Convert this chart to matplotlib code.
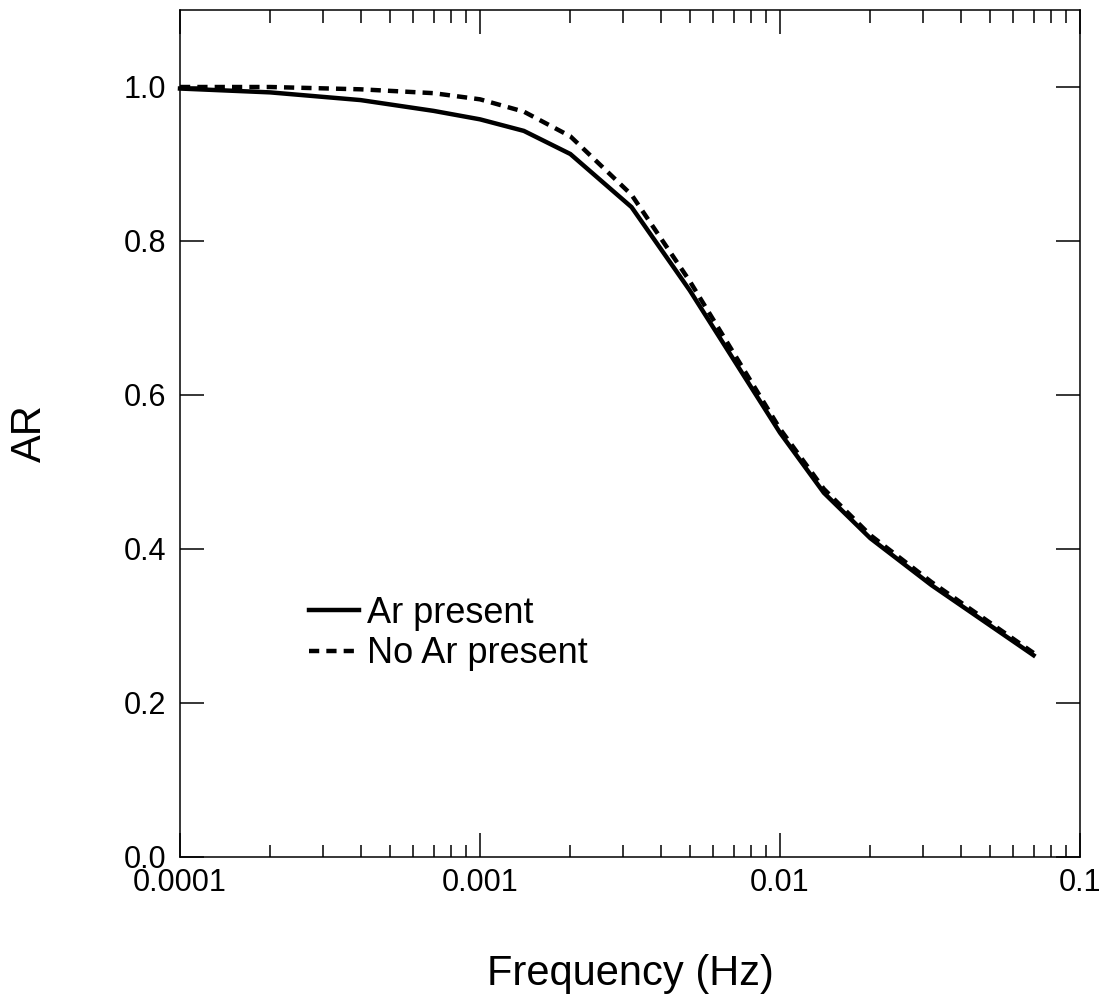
import matplotlib.pyplot as plt
import matplotlib as mpl
from matplotlib.ticker import LogLocator, FixedLocator, NullFormatter

# data
freq = [0.0001, 0.0002, 0.0004, 0.0007, 0.001, 0.0014, 0.002, 0.0032, 0.005,
        0.01, 0.014, 0.02, 0.032, 0.07]
ar_present = [0.998, 0.993, 0.983, 0.969, 0.958, 0.943, 0.913, 0.844, 0.736,
              0.551, 0.473, 0.414, 0.353, 0.262]
no_ar = [1.0, 1.0, 0.997, 0.992, 0.984, 0.968, 0.936, 0.860, 0.748,
         0.556, 0.478, 0.418, 0.357, 0.265]
labels = ["Ar present", "No Ar present"]
xticks = [0.0001, 0.001, 0.01, 0.1]
xticklabels = ["0.0001", "0.001", "0.01", "0.1"]
yticks = [0.0, 0.2, 0.4, 0.6, 0.8, 1.0]

plt.rcParams['font.family'] = ['Liberation Sans', 'DejaVu Sans']

W, H = 1109, 998
fig = plt.figure(figsize=(W / 100, H / 100), dpi=100)
ax = fig.add_axes([180 / W, (H - 857) / H, 900 / W, 847 / H])

ax.plot(freq, ar_present, color='black', lw=3.2, label=labels[0],
        solid_joinstyle='miter', clip_on=False)
ax.plot(freq, no_ar, color='black', lw=3.2, dashes=(2.3, 1.6), label=labels[1],
        clip_on=False)

ax.set_xscale('log')
ax.set_xlim(1e-4, 0.1)
ax.set_ylim(0, 1.1)
ax.xaxis.set_major_locator(FixedLocator(xticks))
ax.set_xticklabels(xticklabels)
ax.xaxis.set_minor_locator(LogLocator(base=10, subs=range(2, 10)))
ax.xaxis.set_minor_formatter(NullFormatter())
ax.set_yticks(yticks)
ax.set_yticklabels([f"{v:.1f}" for v in yticks])

ax.tick_params(which='both', direction='in', top=True, right=True, width=1.1)
ax.tick_params(which='major', length=17, labelsize=22)
ax.tick_params(axis='x', which='major', pad=8)
ax.tick_params(axis='y', which='major', pad=10)
ax.tick_params(which='minor', length=9)
for s in ax.spines.values():
    s.set_linewidth(1.1)

ax.set_xlabel("Frequency (Hz)", fontsize=30, labelpad=40)
ax.set_ylabel("AR", fontsize=30, labelpad=53)

leg = ax.legend(loc='upper left', bbox_to_anchor=(309 / W, (H - 596) / H),
                bbox_transform=fig.transFigure, frameon=False, fontsize=26,
                handlelength=1.39, handletextpad=0.22, labelspacing=0.15,
                borderaxespad=0, borderpad=0)

fig.savefig("out.png", dpi=100, facecolor='white')
